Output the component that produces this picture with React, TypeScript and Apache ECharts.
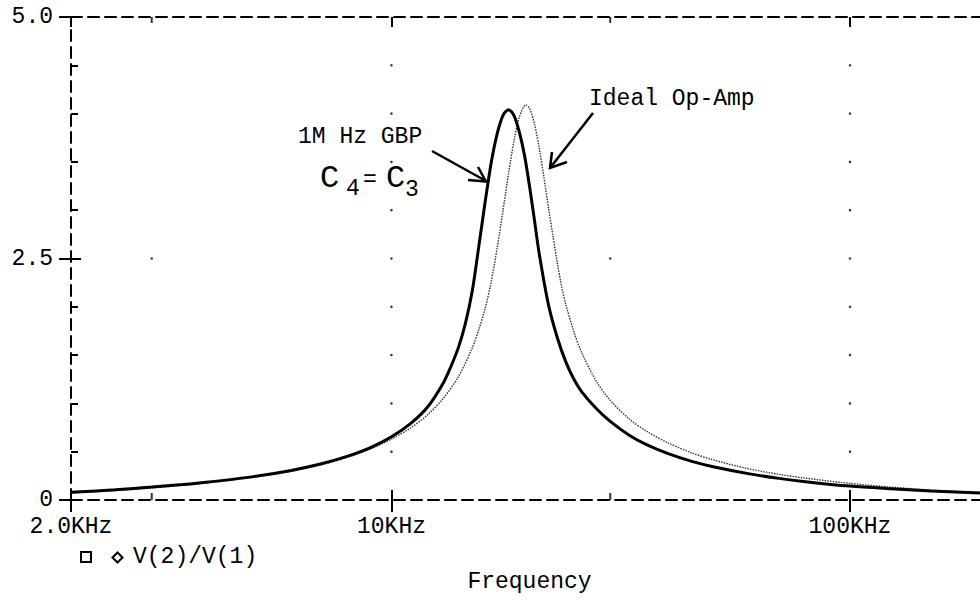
import React, { useEffect, useRef } from "react";
import * as echarts from "echarts";

// ---- data (frequency in Hz, gain V(2)/V(1)) ----
const gbpFreq = [2000, 2500, 3000, 3500, 4000, 5000, 6000, 7000, 8000, 9000, 10000, 11000, 12000, 13000, 13500, 14000, 14500, 15000, 15500, 16000, 16500, 17000, 17500, 18000, 18500, 19000, 19500, 20000, 20500, 21000, 22000, 23000, 24000, 25000, 26000, 28000, 30000, 33000, 36000, 40000, 45000, 50000, 60000, 70000, 80000, 100000, 120000, 150000, 200000];
const gbpGain = [0.08, 0.106, 0.134, 0.16, 0.187, 0.242, 0.303, 0.372, 0.451, 0.542, 0.654, 0.79, 0.965, 1.22, 1.39, 1.58, 1.83, 2.16, 2.62, 3.08, 3.49, 3.79, 3.98, 4.04, 3.98, 3.81, 3.57, 3.25, 2.9, 2.55, 2.02, 1.68, 1.43, 1.25, 1.12, 0.944, 0.814, 0.671, 0.573, 0.482, 0.402, 0.347, 0.273, 0.224, 0.19, 0.144, 0.119, 0.094, 0.069];

const idealFreq = [2000, 2500, 3000, 3500, 4000, 5000, 6000, 7000, 8000, 9000, 10000, 11000, 12000, 13000, 14000, 15000, 15500, 16000, 16500, 17000, 17500, 18000, 18500, 19000, 19650, 20000, 20500, 21000, 21500, 22000, 22500, 23000, 23500, 24000, 25000, 26000, 28000, 30000, 33000, 36000, 40000, 45000, 50000, 60000, 70000, 80000, 100000, 120000, 150000, 200000];
const idealGain = [0.072, 0.099, 0.125, 0.152, 0.18, 0.236, 0.295, 0.363, 0.441, 0.53, 0.631, 0.745, 0.884, 1.057, 1.278, 1.573, 1.762, 1.982, 2.258, 2.61, 2.99, 3.379, 3.716, 3.964, 4.09, 4.055, 3.894, 3.642, 3.341, 3.025, 2.732, 2.453, 2.21, 2.025, 1.74, 1.524, 1.226, 1.032, 0.839, 0.712, 0.594, 0.491, 0.419, 0.324, 0.266, 0.226, 0.172, 0.137, 0.103, 0.072];

const xLabelValues = [2000, 10000, 100000];
const xLabelTexts = ["2.0KHz", "10KHz", "100KHz"];
const yLabelValues = [0, 2.5, 5];
const yLabelTexts = ["0", "2.5", "5.0"];

const minorTickFreqs = [3000, 30000];
const majorDotFreqs = [10000, 100000];
const dotLevels = [0.5, 1, 1.5, 2, 2.5, 3, 3.5, 4, 4.5];
const majorLevelDots = [2.5];

const FONT = "Liberation Mono";

export default function App() {
  const ref = useRef<HTMLDivElement>(null);

  useEffect(() => {
    if (!ref.current) return;
    const chart = echarts.init(ref.current, undefined, { renderer: "svg" });

    const gbpData = gbpFreq.map((f, i) => [f, gbpGain[i]]);
    const idealData = idealFreq.map((f, i) => [f, idealGain[i]]);
    const dots: number[][] = [];
    majorDotFreqs.forEach((f) => dotLevels.forEach((v) => dots.push([f, v])));
    minorTickFreqs.forEach((f) => majorLevelDots.forEach((v) => dots.push([f, v])));

    const xFmt = (val: number) => {
      for (let i = 0; i < xLabelValues.length; i++) {
        if (Math.abs(val / xLabelValues[i] - 1) < 1e-3) return xLabelTexts[i];
      }
      return "";
    };
    const yFmt = (val: number) => {
      for (let i = 0; i < yLabelValues.length; i++) {
        if (Math.abs(val - yLabelValues[i]) < 1e-6) return yLabelTexts[i];
      }
      return "";
    };

    const dashed = { color: "#000", width: 2, type: [11, 6] as any };
    const tickStyle = { color: "#000", width: 2 };
    const baseX = {
      type: "log" as const,
      logBase: 10,
      min: 2000,
      max: 200000,
      splitLine: { show: false },
      minorSplitLine: { show: false },
    };
    const baseY = {
      type: "value" as const,
      min: 0,
      max: 5,
      interval: 2.5,
      splitLine: { show: false },
    };

    const txt = (text: string, x: number, y: number, size = 23) => ({
      type: "text",
      x,
      y,
      style: { text, fontSize: size, fontFamily: FONT, fill: "#000", align: "left", verticalAlign: "middle" },
    });
    const ln = (x1: number, y1: number, x2: number, y2: number) => ({
      type: "line",
      shape: { x1, y1, x2, y2 },
      style: { stroke: "#000", lineWidth: 2.5 },
    });
    const head = (pts: number[][]) => ({
      type: "polyline",
      shape: { points: pts },
      style: { stroke: "#000", lineWidth: 2.5, fill: null },
    });

    chart.setOption({
      animation: false,
      backgroundColor: "#fff",
      grid: { left: 71, top: 17, right: -8, bottom: 100, containLabel: false, outerBoundsMode: "none" },
      xAxis: [
        {
          ...baseX,
          position: "bottom",
          axisLine: { show: true, lineStyle: dashed },
          axisTick: { show: true, inside: true, length: 10, lineStyle: tickStyle },
          axisLabel: {
            show: true,
            interval: 0,
            showMinLabel: true,
            showMaxLabel: false,
            formatter: xFmt,
            fontFamily: FONT,
            fontSize: 23,
            color: "#000",
            margin: 15,
          },
          name: "Frequency",
          nameLocation: "middle",
          nameGap: 70,
          nameTextStyle: { fontFamily: FONT, fontSize: 23, color: "#000" },
        },
        {
          ...baseX,
          position: "bottom",
          axisLine: { show: false },
          axisTick: { show: true, inside: false, length: 12, lineStyle: tickStyle },
          axisLabel: { show: false },
        },
        {
          ...baseX,
          position: "top",
          axisLine: { show: true, lineStyle: dashed },
          axisTick: { show: true, inside: true, length: 10, lineStyle: tickStyle },
          axisLabel: { show: false },
        },
      ],
      yAxis: [
        {
          ...baseY,
          position: "left",
          axisLine: { show: true, lineStyle: dashed },
          axisTick: { show: true, inside: true, length: 10, lineStyle: tickStyle },
          minorTick: { show: true, splitNumber: 5, length: 7, lineStyle: { color: "#000", width: 2 } },
          axisLabel: {
            show: true,
            formatter: yFmt,
            fontFamily: FONT,
            fontSize: 23,
            color: "#000",
            margin: 18,
          },
        },
        {
          ...baseY,
          position: "left",
          axisLine: { show: false },
          axisTick: { show: true, inside: false, length: 12, lineStyle: tickStyle },
          axisLabel: { show: false },
        },
      ],
      series: [
        {
          type: "scatter",
          name: "grid dots",
          data: dots,
          symbol: "circle",
          symbolSize: 2.5,
          itemStyle: { color: "#000" },
          silent: true,
          z: 1,
        },
        {
          type: "scatter",
          name: "minor ticks bottom",
          data: minorTickFreqs.map((f) => [f, 0]),
          symbol: "rect",
          symbolSize: [2, 7],
          symbolOffset: [0, -3.5],
          itemStyle: { color: "#000" },
          clip: false,
          silent: true,
          z: 1,
        },
        {
          type: "scatter",
          name: "minor ticks top",
          data: minorTickFreqs.map((f) => [f, 5]),
          symbol: "rect",
          symbolSize: [2, 6],
          symbolOffset: [0, 3],
          itemStyle: { color: "#000" },
          clip: false,
          silent: true,
          z: 1,
        },
        {
          type: "line",
          name: "Ideal Op-Amp",
          data: idealData,
          showSymbol: false,
          smooth: 0.3,
          lineStyle: { color: "#333", width: 1.4, type: [1.5, 1.2] },
          z: 3,
        },
        {
          type: "line",
          name: "1M Hz GBP",
          data: gbpData,
          showSymbol: false,
          smooth: 0.3,
          lineStyle: { color: "#000", width: 3 },
          z: 4,
        },
      ],
      graphic: [
        txt("1M Hz GBP", 298, 137),
        txt("C", 320, 178, 32),
        txt("4", 346, 189),
        txt("=", 363, 180),
        txt("C", 386, 178, 32),
        txt("3", 405, 190),
        txt("Ideal Op-Amp", 589, 99),
        ln(432, 151, 486, 181),
        head([[468, 180], [486, 181.5], [478, 167]]),
        ln(593, 113, 550, 168),
        head([[567, 162], [550, 168], [552, 152]]),
        {
          type: "rect",
          shape: { x: 81, y: 552, width: 10, height: 10 },
          style: { stroke: "#000", lineWidth: 2, fill: "none" },
        },
        {
          type: "polygon",
          shape: { points: [[117.5, 552.5], [122.5, 557.5], [117.5, 562.5], [112.5, 557.5]] },
          style: { stroke: "#000", lineWidth: 2, fill: "none" },
        },
        txt("V(2)/V(1)", 133, 557),
      ],
    });

    return () => chart.dispose();
  }, []);

  return <div ref={ref} style={{ position: "absolute", left: 0, top: 0, width: 980, height: 600 }} />;
}
